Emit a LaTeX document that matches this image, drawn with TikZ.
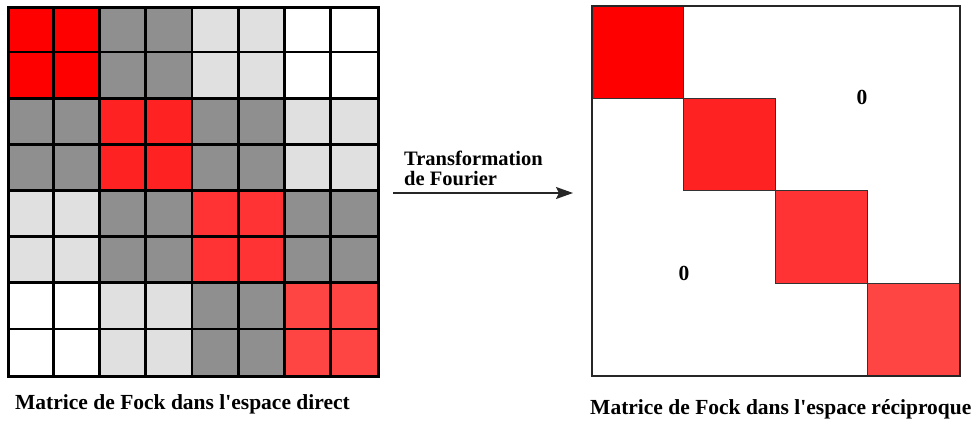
\documentclass[tikz,border=0pt]{standalone}
\usepackage{fontspec}
\setmainfont{Liberation Serif}
\usetikzlibrary{arrows.meta}
\definecolor{diag0}{HTML}{FF0000}
\definecolor{diag1}{HTML}{FF2222}
\definecolor{diag2}{HTML}{FF3333}
\definecolor{diag3}{HTML}{FF4444}
\definecolor{off1}{HTML}{8F8F8F}
\definecolor{off2}{HTML}{E0E0E0}
\definecolor{off3}{HTML}{FFFFFF}
\tikzset{
  label text/.style={font=\bfseries\fontsize{21.5}{24}\selectfont, inner sep=0pt},
  outerbox/.style={draw=black!85, line width=2.2pt, inner sep=0pt},
  blockbox/.style={draw=black!80, line width=0.9pt, inner sep=0pt, minimum width=92pt, minimum height=92.5pt, anchor=north west},
}
\begin{document}
\begin{tikzpicture}[x=1pt,y=-1pt]
\useasboundingbox (0,0) rectangle (980,421);
\fill[white] (0,0) rectangle (980,421);
% left matrix cells
\foreach \i in {0,...,7}{
  \foreach \j in {0,...,7}{
    \pgfmathtruncatemacro\bi{int(\i/2)}
    \pgfmathtruncatemacro\bj{int(\j/2)}
    \pgfmathtruncatemacro\dd{abs(\bi-\bj)}
    \ifnum\dd=0 \def\cc{diag\bi}\else\def\cc{off\dd}\fi
    \fill[\cc] (7+46.25*\j, 6+46.125*\i) rectangle +(46.25,46.125);
  }
}
\foreach \k in {1,...,7}{
  \draw[line width=2.6pt] (7+46.25*\k,6) -- (7+46.25*\k,375);
  \draw[line width=2.6pt] (7,6+46.125*\k) -- (377,6+46.125*\k);
}
\node[outerbox, line width=2.6pt, draw=black, minimum width=370pt, minimum height=369pt, anchor=north west] (L) at (7,6) {};
% right matrix
\node[outerbox, minimum width=368pt, minimum height=370pt, anchor=north west] (R) at (591,5) {};
\node[blockbox, fill=diag0] (b0) at (591,5) {};
\node[blockbox, fill=diag1] (b1) at (683,97.5) {};
\node[blockbox, fill=diag2] (b2) at (775,190) {};
\node[blockbox, fill=diag3] (b3) at (867,282.5) {};
\node[outerbox, minimum width=368pt, minimum height=370pt, anchor=north west] (Rb) at (591,5) {};
\node[label text] (z1) at (862,97) {0};
\node[label text] (z2) at (684,273) {0};
% arrow
\coordinate (a1) at (393,193);
\coordinate (a2) at (573,193);
\draw[line width=1.4pt, black!85, -{Stealth[length=17pt,width=12pt,inset=3pt]}] (a1) -- (a2);
\node[label text, align=left, anchor=base west, font=\bfseries\fontsize{20.5}{20}\selectfont] (t) at (404,185) {Transformation\\de Fourier};
% captions
\node[label text, anchor=base west] (c1) at (15,409) {Matrice de Fock dans l\textquotesingle espace direct};
\node[label text, anchor=base west] (c2) at (590,414) {Matrice de Fock dans l\textquotesingle espace réciproque};
\end{tikzpicture}
\end{document}
